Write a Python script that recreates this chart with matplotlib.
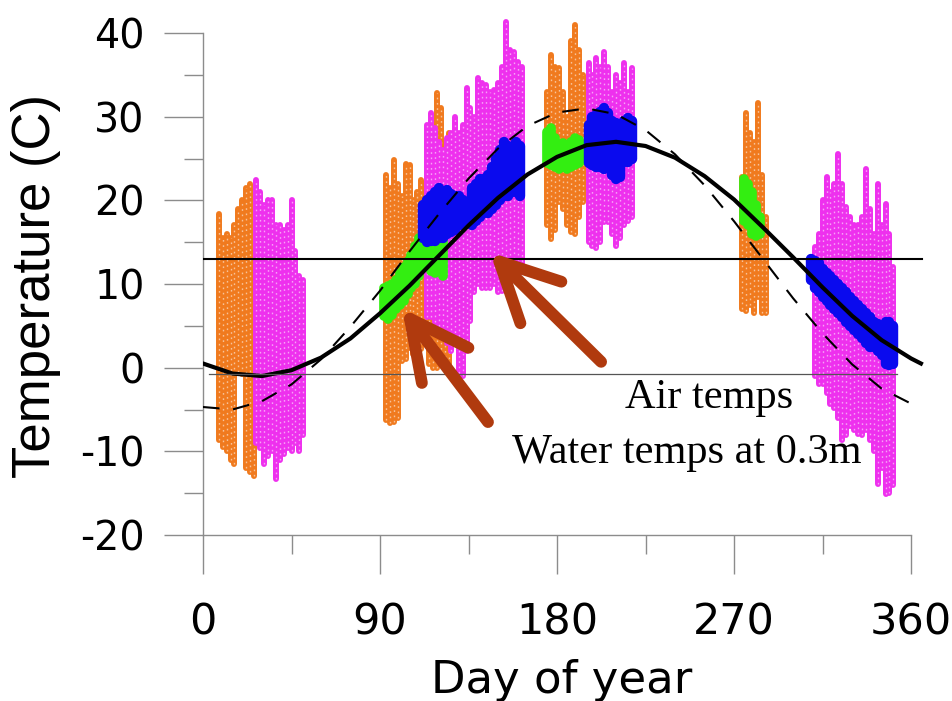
import matplotlib.pyplot as plt

plt.rcParams['font.family'] = 'DejaVu Sans'
plt.rcParams['axes.unicode_minus'] = False

# Air temps, first logger (orange): daily low / high, every other day
orange_day = [8, 10, 12, 14, 16, 18, 20, 22, 24, 26,
              93, 95, 97, 99, 101, 103, 105, 107, 109, 111, 113, 115, 117, 119, 121, 123, 125,
              175, 177, 179, 181, 183, 185, 187, 189, 191, 193,
              274, 276, 278, 280, 282, 284, 286]
orange_low = [-8.7, -9.5, -10, -11, -11.5, -0.5, -0.8, -12, -12.5, -13,
              -6.3, -6.6, -6.5, -6, 0.8, 1, 2.4, 1.6, 2, 2.2, 5.2, 0.5, 0, 0, 0.3, 0, 0.5,
              17, 15.4, 16.5, 19.8, 19, 17, 16.2, 16, 18, 19.8,
              7, 6.8, 7.5, 6.5, 8.4, 6.5, 6.5]
orange_high = [18.4, 15.5, 16, 15.5, 17, 19, 20, 21.5, 22, 14,
               23, 21.5, 24.8, 22, 20.5, 24.4, 24.2, 20, 21, 22.4, 22, 26, 27, 32.8, 31, 27, 28,
               33, 37.4, 36, 35.8, 33, 30, 39, 41, 38, 35,
               22.8, 30.4, 28, 27, 31.6, 23, 18]

# Air temps, second logger (magenta)
magenta_day = [27, 29, 31, 33, 35, 37, 39, 41, 43, 45, 47, 49, 51,
               114, 116, 118, 120, 122, 124, 126, 128, 130, 132, 134, 136, 138,
               140, 142, 144, 146, 148, 150, 152, 154, 156, 158, 160, 162,
               196, 198, 200, 202, 204, 206, 208, 210, 212, 214, 216, 218,
               311, 313, 315, 317, 319, 321, 323, 325, 327, 329, 331, 333, 335, 337, 339,
               341, 343, 345, 347, 349, 351]
magenta_low = [-9, -9.6, -11.5, -10.5, -10, -13.3, -11, -10.3, -9.6, -10, -9, -9.9, -8,
               6, 6, 5.5, 5, 5, 3, 2, 3, -0.6, -1, 2, 5.6, 9,
               10, 9.5, 9.5, 9.5, 10, 9, 9.2, 9.5, 9, 10.5, 11, 11.4,
               15, 14.5, 14.3, 15, 17.4, 17.4, 16, 14.6, 15.5, 17, 17.5, 18,
               -1, -2, -2, -3, -4.3, -4.8, -6, -8.7, -8, -7, -7.5, -7.9, -8, -7.5, -8.7,
               -10, -13.9, -12, -15.1, -15, -14]
magenta_high = [22.4, 21, 19.5, 20, 20, 17, 17, 16.4, 17, 20, 14, 11, 10.5,
                29, 30.4, 28.7, 27, 26, 27.5, 28, 30, 28, 29, 33.4, 31, 30,
                34.6, 34, 33.8, 33, 33.2, 34, 36, 41.3, 38, 37.7, 36.5, 36,
                36.4, 35, 37, 36, 37.7, 36, 33, 35, 34, 36.4, 33, 35.8,
                14.4, 16, 20, 22.8, 21, 22, 25.6, 22, 19.2, 18, 17, 17, 18, 23.8, 19,
                16, 22, 17, 19.6, 16, 12]

# Water temps, first logger (green)
green_day = [92, 94, 96, 98, 100, 102, 104, 106, 108, 110, 112, 114, 116, 118, 120, 122,
             175, 177, 179, 181, 183, 185, 187, 189, 191, 193,
             275, 277, 279, 281, 283]
green_low = [6.2, 5.8, 6.3, 7, 7.5, 8, 8.8, 9.5, 10, 11, 12, 12.5, 11.5, 11.3, 12, 11,
             24.5, 24.2, 24, 23.8, 24, 23.8, 24, 24.2, 24.5, 24.8,
             17.5, 17, 16, 15.8, 16]
green_high = [9.5, 9.8, 10, 10.5, 11.3, 12, 12.8, 13.5, 14.5, 15.5, 17, 19.5, 19, 17, 16.5, 16,
              28.2, 28.6, 27.5, 26.5, 26.8, 26.6, 27, 27.4, 27.2, 26.5,
              22.5, 22, 21, 19.5, 18]

# Water temps, second logger (blue)
blue_day = [112, 114, 116, 118, 120, 122, 124, 126, 128, 130, 132,
            137, 139, 141, 143, 145, 147, 149, 151, 153, 155, 157, 159, 161,
            196, 198, 200, 202, 204, 206, 208, 210, 212, 214, 216, 218,
            309, 311, 313, 315, 317, 319, 321, 323, 325, 327, 329, 331, 333, 335, 337,
            339, 341, 343, 345, 347, 349, 351]
blue_low = [15.5, 15, 15.2, 15.2, 15.5, 15.5, 16, 16.2, 16.5, 17, 17,
            17, 17.5, 18, 18.5, 18.5, 19, 19.5, 20, 20.5, 20.5, 21, 21, 20.5,
            24.5, 24.2, 24, 24, 23.8, 24, 23, 22.6, 22.8, 24.6, 24.6, 25,
            10.5, 9.5, 9, 8.5, 8, 7.5, 7, 6.5, 6, 5.5, 5, 4.5, 4, 3.5, 3,
            2.5, 2.5, 2, 1.5, 0.5, 0.3, 0.5]
blue_high = [19.5, 20, 20.5, 21, 21.5, 21, 21.2, 20.8, 20.5, 20.5, 20,
             21.5, 22, 22.5, 22.5, 23, 24, 25, 26, 27, 26.5, 26, 27, 26.5,
             29, 30, 30.2, 30.6, 31, 30.5, 29.5, 29.3, 29, 29.5, 29.8, 29.5,
             13, 12.8, 12.5, 11.8, 11.3, 11, 10.5, 10, 9.5, 9, 8.5, 8, 7.5, 7, 6.5,
             6, 5.5, 5.2, 5, 5.5, 5.5, 5]

# Fitted annual cycles
fit_day = [0, 15, 30, 45, 60, 75, 90, 105, 120, 135, 150, 165, 180,
           195, 210, 225, 240, 255, 270, 285, 300, 315, 330, 345, 360, 365]
water_fit = [0.5, -0.7, -1.0, -0.3, 1.2, 3.5, 6.5, 9.8, 13.4, 17.0, 20.3, 23.1, 25.2,
             26.6, 27.0, 26.5, 25.1, 22.9, 20.1, 16.7, 13.2, 9.6, 6.2, 3.3, 1.1, 0.5]
air_fit = [-4.7, -5.0, -4.0, -2.0, 1.0, 4.9, 9.2, 13.9, 18.4, 22.6, 26.2, 28.9, 30.5,
           31.0, 30.3, 28.4, 25.5, 21.8, 17.5, 12.9, 8.3, 4.1, 0.4, -2.5, -4.3, -4.7]

mean_temp = 13
water_fit_min = -0.8

fig = plt.figure(figsize=(9.53, 7.01), dpi=100)
ax = fig.add_axes([0.2130, 0.2368, 0.7678, 0.7399])

# air temps drawn as thick strips with white specks, so they read like stacked open circles
for days, lows, highs, col in [(orange_day, orange_low, orange_high, '#F07A1E'),
                               (magenta_day, magenta_low, magenta_high, '#EE30EE')]:
    ax.vlines(days, lows, highs, colors=col, linewidth=4.3, capstyle='round', zorder=2)
    ax.vlines(days, lows, highs, colors='white', linewidth=1.0, alpha=0.55,
              linestyles=(0, (1.2, 2.6)), zorder=2)

# water temps as fat blobs
ax.vlines(green_day, green_low, green_high, colors='#33EE11', linewidth=7,
          capstyle='round', zorder=3)
ax.vlines(blue_day, blue_low, blue_high, colors='#0A0AEE', linewidth=7.5,
          capstyle='round', zorder=4)

# fitted curves and reference lines
ax.plot(fit_day, water_fit, color='black', linewidth=3, zorder=5)
ax.plot(fit_day, air_fit, color='black', linewidth=1.5, linestyle=(0, (8, 6.5)), zorder=5)
ax.plot([0, 365.5], [mean_temp, mean_temp], color='black', linewidth=1.5, zorder=6)
ax.plot([3, 353], [water_fit_min, water_fit_min], color='#555555', linewidth=0.9, zorder=6)

# arrows pointing at the two data types
arrow_color = '#B03A0E'
ax.annotate('', xy=(101.2, 7.1), xytext=(144.9, -6.5),
            arrowprops=dict(arrowstyle='->,head_length=0.7,head_width=0.35', lw=8.5,
                            color=arrow_color, mutation_scale=60, shrinkA=0, shrinkB=0),
            zorder=7)
ax.annotate('', xy=(145.9, 13.8), xytext=(202.4, 0.7),
            arrowprops=dict(arrowstyle='->,head_length=0.7,head_width=0.35', lw=8.5,
                            color=arrow_color, mutation_scale=60, shrinkA=0, shrinkB=0),
            zorder=7)

ax.text(214.5, -4.8, 'Air temps', family='Liberation Serif', fontsize=30.5,
        ha='left', va='baseline', zorder=8)
ax.text(157.1, -11.4, 'Water temps at 0.3m', family='Liberation Serif', fontsize=30.5,
        ha='left', va='baseline', zorder=8)

# R style axes
ax.set_xlim(0, 372)
ax.set_ylim(-20, 42)
ax.spines['top'].set_visible(False)
ax.spines['right'].set_visible(False)
ax.spines['left'].set_bounds(-20, 40)
ax.spines['bottom'].set_bounds(0, 360)
for side in ['left', 'bottom']:
    ax.spines[side].set_color('#8c8c8c')
    ax.spines[side].set_linewidth(1)

ax.set_xticks([0, 90, 180, 270, 360])
ax.set_xticks([45, 135, 225, 315], minor=True)
ax.set_yticks([-20, -10, 0, 10, 20, 30, 40])
ax.set_yticklabels(['-20', '-10', '0', '10', '20', '30', '40'])
ax.set_yticks([-15, -5, 5, 15, 25, 35], minor=True)
ax.tick_params(which='major', length=28, width=1, color='#8c8c8c')
ax.tick_params(which='minor', length=14, width=1, color='#8c8c8c')
ax.tick_params(axis='y', which='major', pad=14, labelsize=28.5)
ax.tick_params(axis='x', which='major', pad=20, labelsize=31)

fig.text(0.0378, 0.5927, 'Temperature (C)', family='Liberation Sans', fontsize=38,
         rotation=90, ha='center', va='center')
fig.text(0.589, 0.0114, 'Day of year', fontsize=32.4, ha='center', va='baseline')

fig.savefig('out.png', dpi=100)
